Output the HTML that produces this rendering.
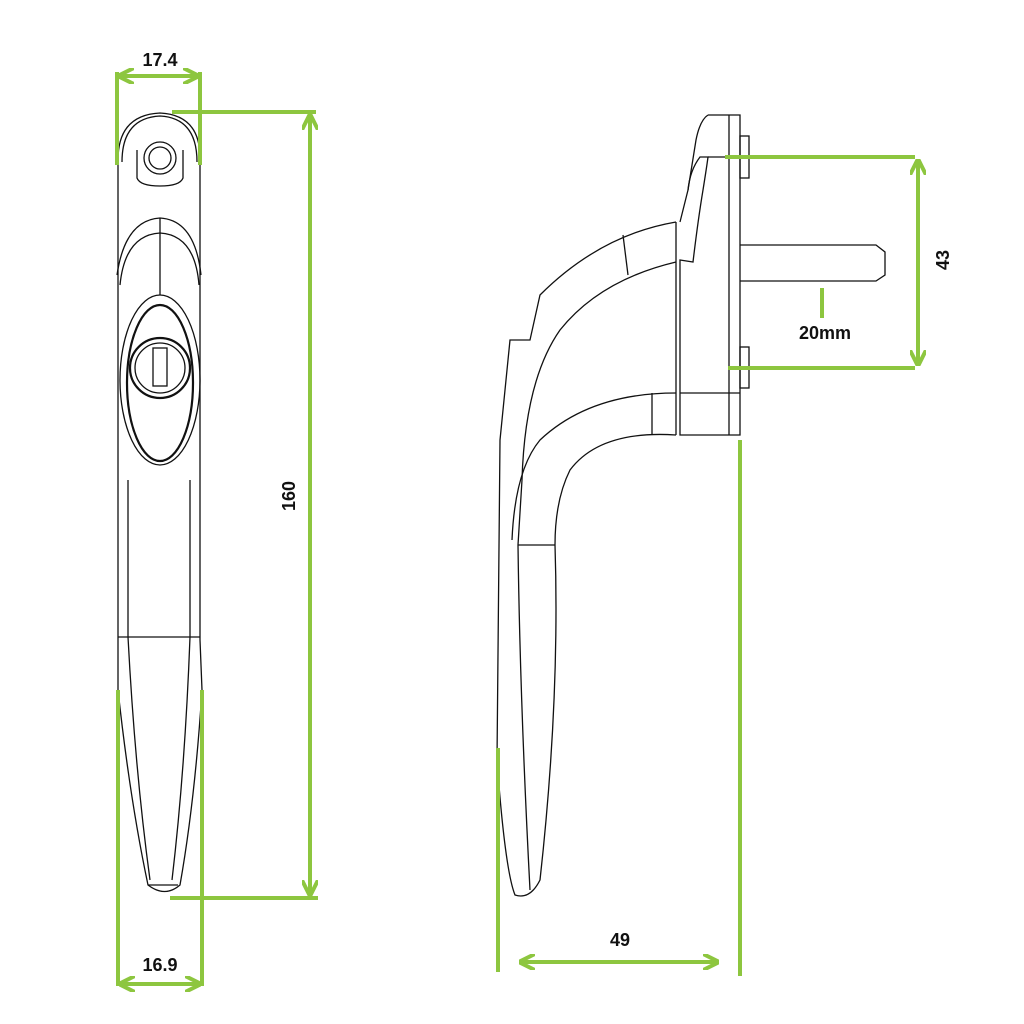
<!DOCTYPE html>
<html><head><style>
html,body{margin:0;padding:0;background:#fff;}
svg{display:block;}
text{font-family:"Liberation Sans",sans-serif;font-weight:bold;fill:#111;font-size:18px;}
</style></head><body>
<svg width="1024" height="1024" viewBox="0 0 1024 1024" xmlns="http://www.w3.org/2000/svg">
<defs>
<marker id="a" viewBox="0 0 10 10" refX="8" refY="5" markerWidth="4" markerHeight="4" orient="auto-start-reverse"><path d="M0,0 L10,5 L0,10" fill="none" stroke="#8dc63f" stroke-width="2.5"/></marker>
</defs>
<!-- Left handle front view -->
<g fill="none" stroke="#111" stroke-width="1.3">
<path d="M118,160 Q118,115 160,113 Q201,115 200,160 L200,640 L202,690 Q195,800 180,885 Q165,898 148,885 Q130,800 118,690 L118,640 Z"/>
<path d="M122,162 Q122,118 160,116 Q197,118 197,162"/>
<circle cx="160" cy="158" r="16"/><circle cx="160" cy="158" r="11"/>
<path d="M137,150 L137,178 Q140,186 160,186 Q180,186 183,178 L183,150"/>
<path d="M117,275 Q125,220 160,218 Q195,220 201,275"/>
<path d="M120,285 Q125,235 160,233 Q195,235 199,285"/>
<line x1="160" y1="218" x2="160" y2="295"/>
<ellipse cx="160" cy="380" rx="40" ry="85"/>
<ellipse cx="160" cy="383" rx="33" ry="78" stroke-width="2.2"/>
<circle cx="160" cy="368" r="30" stroke-width="2.2"/>
<circle cx="160" cy="368" r="25"/>
<rect x="153" y="348" width="14" height="38"/>
<line x1="118" y1="637" x2="200" y2="637"/>
<line x1="128" y1="480" x2="128" y2="637"/><line x1="190" y1="480" x2="190" y2="637"/>
<path d="M128,637 Q135,770 150,880"/><path d="M190,637 Q185,770 172,880"/>
<line x1="148" y1="885" x2="178" y2="885"/>
</g>
<!-- Right side view -->
<g fill="none" stroke="#111" stroke-width="1.3">
<path d="M708,115 L740,115 L740,435 L680,435 L680,260 L693,262 Q698,220 703,190 Q707,165 708,157 L700,157 Q690,170 688,190 L680,222"/>
<path d="M708,115 Q700,120 696,140 L688,190"/>
<line x1="729" y1="115" x2="729" y2="435"/>
<line x1="708" y1="157" x2="729" y2="157"/>
<line x1="680" y1="393" x2="740" y2="393"/>
<rect x="740" y="136" width="9" height="42"/>
<rect x="740" y="347" width="9" height="41"/>
<path d="M740,245 L876,245 L885,252 L885,275 L876,281 L740,281"/>
<path d="M676,222 Q600,235 540,295 L530,340 L510,340 L500,440 L497,760 Q505,870 515,895 Q530,900 540,880 Q560,700 555,545"/>
<path d="M676,262 Q600,280 560,330 Q525,380 522,480 L518,545 Q520,700 530,890"/>
<path d="M676,393 Q590,393 540,440 Q515,470 512,540"/>
<path d="M676,435 Q600,430 570,470 Q555,500 555,545"/>
<line x1="652" y1="393" x2="652" y2="435"/>
<line x1="623" y1="235" x2="628" y2="275"/>
<line x1="676" y1="222" x2="676" y2="435"/>
<line x1="518" y1="545" x2="555" y2="545"/>
</g>
<!-- Dimensions -->
<g stroke="#8dc63f" stroke-width="4" fill="none">
<line x1="117" y1="72" x2="117" y2="165"/><line x1="200" y1="72" x2="200" y2="165"/>
<line x1="121" y1="76" x2="196" y2="76" marker-start="url(#a)" marker-end="url(#a)"/>
<line x1="172" y1="112" x2="316" y2="112"/>
<line x1="310" y1="117" x2="310" y2="893" marker-start="url(#a)" marker-end="url(#a)"/>
<line x1="170" y1="898" x2="318" y2="898"/>
<line x1="118" y1="690" x2="118" y2="986"/><line x1="202" y1="690" x2="202" y2="986"/>
<line x1="122" y1="984" x2="198" y2="984" marker-start="url(#a)" marker-end="url(#a)"/>
<line x1="725" y1="157" x2="915" y2="157"/>
<line x1="728" y1="368" x2="915" y2="368"/>
<line x1="918" y1="162" x2="918" y2="363" marker-start="url(#a)" marker-end="url(#a)"/>
<line x1="822" y1="288" x2="822" y2="318"/>
<line x1="498" y1="748" x2="498" y2="972"/>
<line x1="740" y1="440" x2="740" y2="976"/>
<line x1="522" y1="962" x2="716" y2="962" marker-start="url(#a)" marker-end="url(#a)"/>
</g>
<text x="160" y="66" text-anchor="middle">17.4</text>
<text x="160" y="971" text-anchor="middle">16.9</text>
<text x="295" y="496" text-anchor="middle" transform="rotate(-90 295 496)">160</text>
<text x="949" y="260" text-anchor="middle" transform="rotate(-90 949 260)">43</text>
<text x="825" y="339" text-anchor="middle">20mm</text>
<text x="620" y="946" text-anchor="middle">49</text>
</svg>
</body></html>
